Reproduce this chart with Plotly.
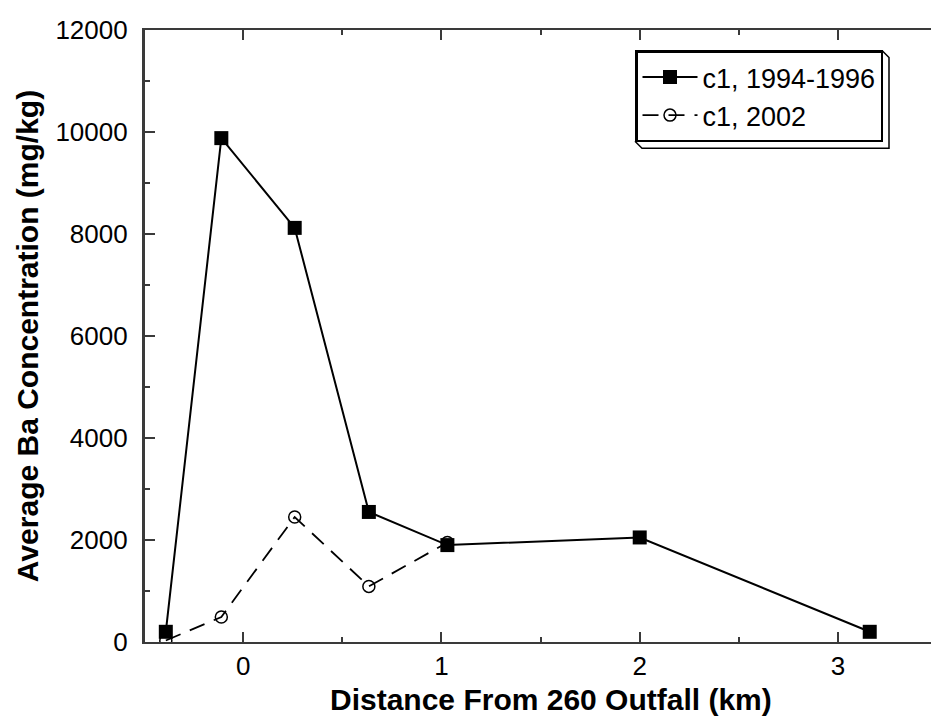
import plotly.graph_objects as go

# Data
dist_9496 = [-0.39, -0.11, 0.26, 0.634, 1.03, 2.0, 3.16]
ba_9496 = [200, 9880, 8120, 2550, 1900, 2050, 200]
dist_2002 = [-0.39, -0.11, 0.26, 0.634, 1.03]
ba_2002 = [30, 490, 2450, 1090, 1950]
x_ticks = [0, 1, 2, 3]
y_ticks = [0, 2000, 4000, 6000, 8000, 10000, 12000]
name_9496 = "c1, 1994-1996"
name_2002 = "c1, 2002"
x_title = "Distance From 260 Outfall (km)"
y_title = "Average Ba Concentration (mg/kg)"

FONT = "Liberation Sans, Arial, Helvetica, sans-serif"
AX = "#3a3a3a"

fig = go.Figure()
fig.add_trace(go.Scatter(
    x=dist_9496, y=ba_9496, name=name_9496, mode="lines+markers",
    line=dict(color="black", width=2),
    marker=dict(symbol="square", size=14, color="black"),
))
fig.add_trace(go.Scatter(
    x=dist_2002, y=ba_2002, name=name_2002, mode="lines+markers",
    line=dict(color="black", width=1.8, dash="16px,10px"),
    marker=dict(symbol="circle-open", size=12, color="black", line=dict(width=1.5)),
))

L, T, W, H = 144, 29.5, 931, 722
B = 722 - 642.5
R = 0
pw = W - L - R
ph = H - T - B


def px_x(p):
    return (p - L) / pw


def px_y(p):
    return (H - B - p) / ph


# legend shadow (3D look), paper coords
lx0, ly0, lx1, ly1 = 635, 50, 882, 141
off = 7
path = (f"M {px_x(lx1)},{px_y(ly0)} L {px_x(lx1+off)},{px_y(ly0+off)} "
        f"L {px_x(lx1+off)},{px_y(ly1+off)} L {px_x(lx0+off)},{px_y(ly1+off)} "
        f"L {px_x(lx0)},{px_y(ly1)}")
fig.add_shape(type="path", path=path, xref="paper", yref="paper",
              line=dict(color="black", width=1.5))

# left frame line (explicit, same style as axis line)
fig.add_shape(type="line", xref="paper", yref="paper", x0=0, x1=0, y0=0, y1=1,
              line=dict(color=AX, width=2), layer="above")

fig.add_annotation(text=f"<b>{x_title}</b>", xref="paper", yref="paper",
                   x=px_x(551), y=px_y(700), xanchor="center", yanchor="middle",
                   showarrow=False, font=dict(size=30, family=FONT, color="black"))

fig.update_layout(
    width=W, height=H,
    margin=dict(l=L, r=R, t=T, b=B, pad=0),
    paper_bgcolor="white", plot_bgcolor="white",
    font=dict(family=FONT, color="black", size=26),
    showlegend=True,
    legend=dict(
        x=px_x(lx0), y=px_y(ly0), xanchor="left", yanchor="top",
        bordercolor="black", borderwidth=2.5, bgcolor="white",
        font=dict(size=27, family=FONT, color="black"),
        tracegroupgap=0, itemwidth=55,
    ),
    xaxis=dict(
        range=[-0.5, 3.469], tickvals=x_ticks, ticktext=[str(v) for v in x_ticks],
        ticks="inside", ticklen=10, tickwidth=1.5, tickcolor=AX,
        minor=dict(dtick=0.5, tick0=0, ticks="inside", ticklen=5, tickwidth=1.5, tickcolor=AX),
        showline=True, linecolor=AX, linewidth=2, mirror="ticks",
        showgrid=False, zeroline=False, automargin=False,
        tickfont=dict(size=26), ticklabelstandoff=0,
    ),
    yaxis=dict(
        range=[0, 12000], tickvals=y_ticks, ticktext=[str(v) for v in y_ticks],
        ticks="inside", ticklen=11, tickwidth=1.5, tickcolor=AX,
        minor=dict(dtick=1000, tick0=0, ticks="inside", ticklen=6, tickwidth=1.5, tickcolor=AX),
        showline=True, linecolor=AX, linewidth=2.2, mirror=False,
        showgrid=False, zeroline=False, automargin=False,
        tickfont=dict(size=26), ticklabelstandoff=9,
        title=dict(text=f"<b>{y_title}</b>", font=dict(size=30), standoff=8),
    ),
)

fig.write_html("out.html")
